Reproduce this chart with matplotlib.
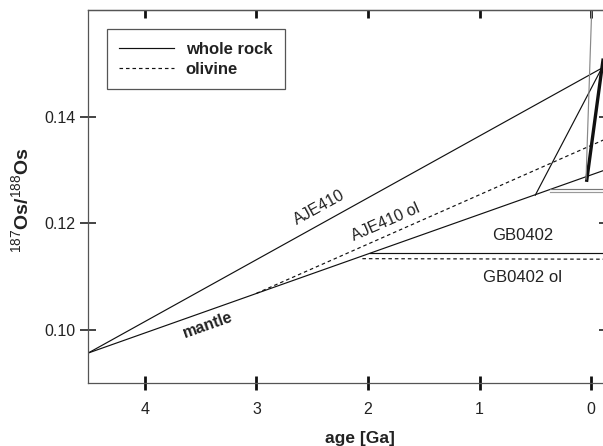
import matplotlib.pyplot as plt

plt.rcParams['font.family'] = ['Liberation Sans', 'DejaVu Sans']
plt.rcParams['mathtext.fontset'] = 'custom'
plt.rcParams['mathtext.rm'] = 'Liberation Sans'

# age [Ga] / 187Os/188Os pairs
mantle_age = [4.51, -0.15]
mantle_os = [0.0957, 0.1302]

aje410_age = [4.51, -0.096]
aje410_os = [0.0957, 0.1491]
aje410_tie_age = [-0.096, 0.50]
aje410_tie_os = [0.1491, 0.1253]

aje410_ol_age = [3.0, -0.15]
aje410_ol_os = [0.1069, 0.1360]

gb0402_age = [1.98, -0.15]
gb0402_os = [0.1144, 0.1144]
gb0402_ol_age = [2.05, -0.15]
gb0402_ol_os = [0.1134, 0.1133]

young_age = [0.37, -0.15]
young_os_a = [0.1264, 0.1264]
young_os_b = [0.1258, 0.1258]

thick_age = [0.0385, -0.107]
thick_os = [0.1281, 0.1506]
steep_age = [0.045, -0.009]
steep_os = [0.1283, 0.1620]

xticks = [4, 3, 2, 1, 0]
yticks = [0.10, 0.12, 0.14]

fig = plt.figure(figsize=(6.03, 4.46), dpi=100)
ax = fig.add_axes([88 / 603, 63 / 446, 519 / 603, 373 / 446])

lw = 0.85
ax.plot(mantle_age, mantle_os, color='#111', lw=lw)
ax.plot(aje410_age, aje410_os, color='#111', lw=lw, label='whole rock')
ax.plot(aje410_tie_age, aje410_tie_os, color='#111', lw=lw)
ax.plot(aje410_ol_age, aje410_ol_os, color='#111', lw=lw, ls=(0, (3, 2.5)), label='olivine')
ax.plot(gb0402_age, gb0402_os, color='#111', lw=lw)
ax.plot(gb0402_ol_age, gb0402_ol_os, color='#111', lw=lw, ls=(0, (3, 2.5)))
ax.plot(young_age, young_os_a, color='#777', lw=lw)
ax.plot(young_age, young_os_b, color='#999', lw=lw)
ax.plot(thick_age, thick_os, color='#111', lw=2.4)
ax.plot(steep_age, steep_os, color='#888', lw=lw)

ax.text(2.435, 0.1229, 'AJE410', rotation=28.9, ha='center', va='center', fontsize=11.5, color='#222')
ax.text(1.844, 0.12017, 'AJE410 ol', rotation=23.7, ha='center', va='center', fontsize=11.5, color='#222')
ax.text(3.433, 0.10095, 'mantle', rotation=19.5, ha='center', va='center', fontsize=11.5,
        fontweight='bold', color='#222')
ax.text(0.613, 0.1177, 'GB0402', ha='center', va='center', fontsize=12, color='#222')
ax.text(0.613, 0.10985, 'GB0402 ol', ha='center', va='center', fontsize=12, color='#222')

ax.set_xlim(4.51, -0.143)
ax.set_ylim(0.0901, 0.160)
ax.set_xticks(xticks)
ax.set_yticks(yticks)
ax.set_yticklabels(['%.2f' % v for v in yticks])

for s in ax.spines.values():
    s.set_color('#555')
    s.set_linewidth(0.9)

ax.tick_params(axis='x', direction='inout', length=10, width=2, color='#111',
               labelsize=11.5, labelcolor='#222', pad=9)
ax.tick_params(axis='y', direction='inout', length=11.5, width=1.1, color='#111',
               labelsize=11.5, labelcolor='#222', pad=3)

top = ax.secondary_xaxis('top')
top.set_xticks(xticks)
top.tick_params(direction='in', length=5.8, width=2, color='#111', labeltop=False)
top.spines['top'].set_color('#555')
top.spines['top'].set_linewidth(0.9)
right = ax.secondary_yaxis('right')
right.set_yticks(yticks)
right.tick_params(direction='in', length=5.8, width=1.1, color='#111', labelright=False)

ax.set_xlabel('age [Ga]', fontsize=12.5, fontweight='bold', color='#222')
ax.xaxis.set_label_coords((360 - 88) / 519, -0.128)
ax.set_ylabel(r'$^{187}$Os/$^{188}$Os', fontsize=14, fontweight='bold', color='#222')
ax.yaxis.set_label_coords(-0.105, 0.49)

leg = ax.legend(loc='upper left', bbox_to_anchor=(0.036, 0.948), borderaxespad=0,
                prop={'weight': 'bold', 'size': 12}, handlelength=3.3, handletextpad=0.7,
                borderpad=0.75, labelspacing=0.3, fancybox=False, framealpha=1)
leg.get_frame().set_edgecolor('#555')
leg.get_frame().set_linewidth(0.9)
for t in leg.get_texts():
    t.set_color('#222')

fig.savefig('out.png', dpi=100)
